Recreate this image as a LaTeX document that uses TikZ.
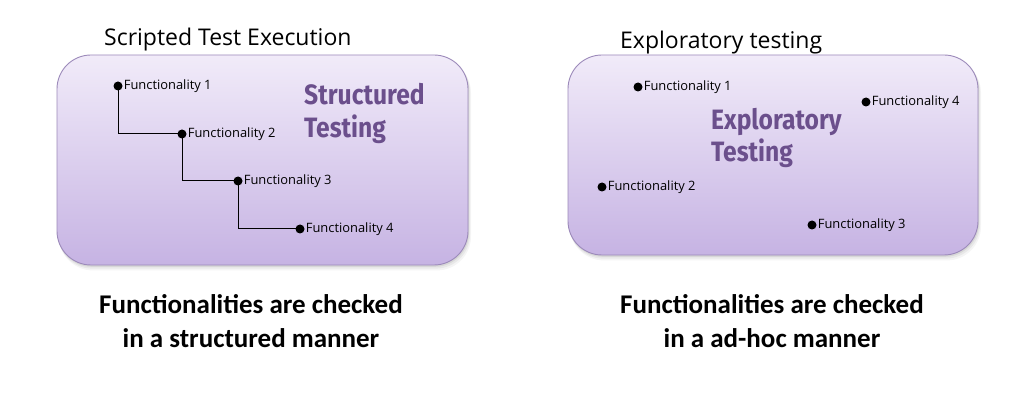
\documentclass[tikz,border=0pt]{standalone}
\usepackage{fontspec}
\setmainfont{Open Sans}
\newfontfamily\capfont{Carlito}
\newfontfamily\decofont{Fira Sans}
\usetikzlibrary{positioning}
\definecolor{boxtop}{HTML}{F1EBF9}
\definecolor{boxbot}{HTML}{C6B3E3}
\definecolor{boxedge}{HTML}{9C8ABA}
\definecolor{decocol}{HTML}{6B4F8C}
\tikzset{
  panel/.style={rounded corners=34pt, top color=boxtop, bottom color=boxbot, draw=boxedge, line width=0.9pt},
  dot/.style={circle, fill=black, inner sep=0pt, minimum size=9pt},
  flabel/.style={font=\fontsize{12.9}{14}\selectfont, inner sep=1pt, anchor=west},
  heading/.style={font=\fontsize{23}{26}\selectfont, inner sep=0pt},
  caption/.style={font=\capfont\bfseries\fontsize{27}{34}\selectfont, align=center, inner sep=0pt},
  deco/.style={font=\decofont\bfseries\fontsize{28}{33}\selectfont, text=decocol, inner sep=0pt, anchor=base west},
  link/.style={line width=1pt}
}
\newcommand{\panelshadow}[4]{%
  \foreach \k/\o in {6/0.04,4/0.05,2/0.07}{
    \fill[black, opacity=\o, rounded corners=34pt] (#1+\k*0.3,#2+\k*0.6) rectangle (#3+\k*0.5,#4+\k*0.9);
  }}
\begin{document}
\begin{tikzpicture}[x=1pt,y=-1pt]
\useasboundingbox (0,0) rectangle (1013,393);
\fill[white] (0,0) rectangle (1013,393);

% ---- left panel: scripted testing ----
\panelshadow{57}{55}{468}{265}
\shade[panel] (57,55) rectangle (468,265);
\node[heading, anchor=base west] (lt) at (104,46) {Scripted Test Execution};

\node[deco] (ld1) at (304,105) {\scalebox{0.88}[1]{Structured}};
\node[deco] (ld2) at (304,138) {\scalebox{0.88}[1]{Testing}};

\node[dot] (s1) at (118,86) {};
\node[dot] (s2) at (182,134) {};
\node[dot] (s3) at (238,181) {};
\node[dot] (s4) at (300,229) {};
\node[flabel, right=0pt of s1] (ls1) {Functionality 1};
\node[flabel, right=0pt of s2] (ls2) {Functionality 2};
\node[flabel, right=0pt of s3] (ls3) {Functionality 3};
\node[flabel, right=0pt of s4] (ls4) {Functionality 4};
\draw[link] (s1.center) |- (s2.center);
\draw[link] (s2.center) |- (s3.center);
\draw[link] (s3.center) |- (s4.center);

\node[caption] (lc) at (251,321) {Functionalities are checked\\in a structured manner};

% ---- right panel: exploratory testing ----
\panelshadow{568}{55}{978}{255}
\shade[panel] (568,55) rectangle (978,255);
\node[heading, anchor=base west] (rt) at (620,49) {Exploratory testing};

\node[deco] (rd1) at (711,130) {\scalebox{0.88}[1]{Exploratory}};
\node[deco] (rd2) at (711,162) {\scalebox{0.88}[1]{Testing}};

\node[dot] (e1) at (638,87) {};
\node[dot] (e2) at (602,187) {};
\node[dot] (e3) at (812,225) {};
\node[dot] (e4) at (866,102) {};
\node[flabel, right=0pt of e1] (le1) {Functionality 1};
\node[flabel, right=0pt of e2] (le2) {Functionality 2};
\node[flabel, right=0pt of e3] (le3) {Functionality 3};
\node[flabel, right=0pt of e4] (le4) {Functionality 4};

\node[caption] (rc) at (772,321) {Functionalities are checked\\in a ad-hoc manner};
\end{tikzpicture}
\end{document}
